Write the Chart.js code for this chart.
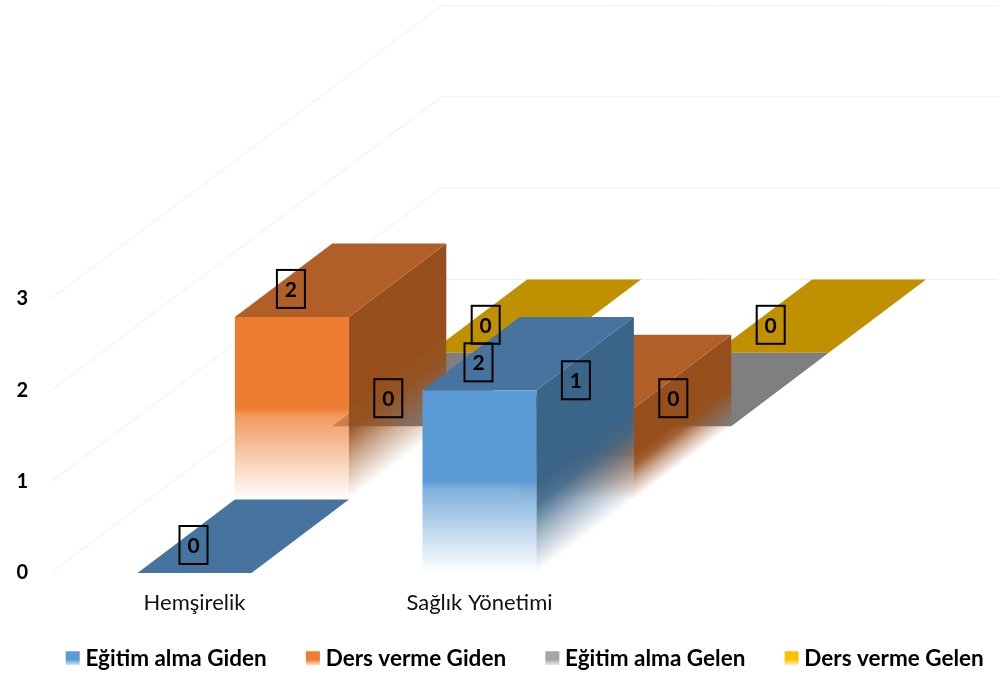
<!DOCTYPE html>
<html>
<head>
<meta charset="utf-8">
<style>
  html, body { margin: 0; background: #fff; }
</style>
<script src="https://cdn.jsdelivr.net/npm/chart.js@4"></script>
</head>
<body>
<canvas id="chart" width="998" height="677"></canvas>
<script>
const categories = ["Hemşirelik", "Sağlık Yönetimi"];
const seriesNames = ["Eğitim alma Giden", "Ders verme Giden", "Eğitim alma Gelen", "Ders verme Gelen"];
const egitimAlmaGiden = [0, 2];
const dersVermeGiden = [2, 1];
const egitimAlmaGelen = [0, 0];
const dersVermeGelen = [0, 0];
const yTicks = [0, 3];

const front = ["91,155,213", "237,125,49", "165,165,165", "255,192,0"];
const topFace = ["#46749f", "#b15f27", "#7f7f7f", "#bf9000"];
const side = ["58,100,136", "150,79,28", "124,124,124", "191,144,0"];

// each series sits one row further back
const rowX = 97.4;
const rowY = -73.4;
const rows = 4;

function fadeStops(g, rgb) {
  g.addColorStop(0, `rgba(${rgb},1)`);
  g.addColorStop(0.08, `rgba(${rgb},0.78)`);
  g.addColorStop(1, `rgba(${rgb},0)`);
}

function sideStops(g, rgb) {
  g.addColorStop(0, `rgba(${rgb},1)`);
  g.addColorStop(0.25, `rgba(${rgb},0.9)`);
  g.addColorStop(0.6, `rgba(${rgb},0.45)`);
  g.addColorStop(1, `rgba(${rgb},0)`);
}

function poly(ctx, pts, fill) {
  ctx.beginPath();
  pts.forEach((p, i) => (i ? ctx.lineTo(p[0], p[1]) : ctx.moveTo(p[0], p[1])));
  ctx.closePath();
  ctx.fillStyle = fill;
  ctx.fill();
}

const bars3d = {
  id: "bars3d",
  afterLayout(chart) {
    // legend is not centred in the original, and sits closer to the axis
    chart.legend.left += 13.5;
    chart.legend.right += 13.5;
    chart.legend.top -= 14.75;
    chart.legend.bottom -= 14.75;
  },
  beforeDatasetsDraw(chart) {
    const { ctx, chartArea, scales } = chart;
    ctx.save();
    ctx.strokeStyle = "#efefef";
    ctx.lineWidth = 1;
    scales.y.ticks.forEach((t) => {
      const y = scales.y.getPixelForValue(t.value);
      ctx.beginPath();
      ctx.moveTo(chartArea.left - 1, y);
      ctx.lineTo(chartArea.left + rowX * rows, y + rowY * rows);
      ctx.lineTo(chart.width, y + rowY * rows);
      ctx.stroke();
    });
    ctx.restore();
  },
  afterDatasetsDraw(chart) {
    const { ctx } = chart;
    ctx.save();
    for (let d = rows - 1; d >= 0; d--) {
      const dx = rowX * d;
      const dy = rowY * d;
      chart.getDatasetMeta(d).data.forEach((bar) => {
        const l = bar.x - bar.width / 2 + dx;
        const r = bar.x + bar.width / 2 + dx;
        const t = bar.y + dy;
        const b = bar.base + dy;
        const h = b - t;
        if (h > 0.5) {
          const start = b - h * 0.5;
          let g = ctx.createLinearGradient(0, start, 0, b);
          fadeStops(g, front[d]);
          ctx.fillStyle = g;
          ctx.fillRect(l, t, r - l, h);

          // side face: shear so the fade runs along the depth
          ctx.save();
          ctx.transform(1, rowY / rowX, 0, 1, r, t);
          g = ctx.createLinearGradient(0, h - h * 0.5, 0, h);
          sideStops(g, side[d]);
          ctx.fillStyle = g;
          ctx.fillRect(0, 0, rowX, h);
          ctx.restore();
        }
        poly(ctx, [[l, t], [r, t], [r + rowX, t + rowY], [l + rowX, t + rowY]], topFace[d]);
      });
    }

    // value boxes
    ctx.font = "bold 21px Lato";
    ctx.textAlign = "center";
    ctx.textBaseline = "middle";
    for (let d = 0; d < rows; d++) {
      const meta = chart.getDatasetMeta(d);
      meta.data.forEach((bar, i) => {
        const x = bar.x + rowX * d - 1;
        const y = bar.y + rowY * d - 28;
        ctx.strokeStyle = "#000";
        ctx.lineWidth = 2;
        ctx.strokeRect(x - 14, y - 19, 28, 38);
        ctx.fillStyle = "#000";
        ctx.fillText(String(chart.data.datasets[d].data[i]), x, y + 1);
      });
    }
    ctx.restore();
  },
};

const ctx = document.getElementById("chart").getContext("2d");
new Chart(ctx, {
  type: "bar",
  data: {
    labels: categories,
    datasets: [egitimAlmaGiden, dersVermeGiden, egitimAlmaGelen, dersVermeGelen].map((values, i) => ({
      label: seriesNames[i],
      data: values,
      backgroundColor: "rgba(0,0,0,0)",
      grouped: false,
      barPercentage: 0.4,
      categoryPercentage: 1,
    })),
  },
  plugins: [bars3d],
  options: {
    responsive: false,
    animation: false,
    // negative right: four legend items need a bit more than the canvas width
    layout: { padding: { top: 299, bottom: -17.25, right: -30 } },
    plugins: {
      tooltip: { enabled: false },
      legend: {
        position: "bottom",
        labels: {
          color: "#000",
          font: { family: "Lato", size: 22.5, weight: "bold" },
          // small box with a thick stroke, keeps the text close to the swatch
          boxWidth: 3,
          boxHeight: 3,
          padding: 44.75,
          generateLabels(chart) {
            return seriesNames.map((name, i) => {
              const g = chart.ctx.createLinearGradient(0, 652, 0, 666);
              g.addColorStop(0, `rgba(${front[i]},1)`);
              g.addColorStop(0.55, `rgba(${front[i]},1)`);
              g.addColorStop(1, `rgba(${front[i]},0.1)`);
              return { text: name, fillStyle: g, strokeStyle: g, lineWidth: 11, datasetIndex: i };
            });
          },
        },
      },
    },
    scales: {
      x: {
        grid: { display: false },
        border: { display: false },
        ticks: { color: "#111", font: { family: "Lato", size: 22 }, padding: 9, maxRotation: 0 },
        afterFit(scale) { scale.height = 44; },
      },
      y: {
        min: yTicks[0],
        max: yTicks[1],
        grid: { display: false },
        border: { display: false },
        ticks: { stepSize: 1, color: "#000", font: { family: "Lato", size: 20, weight: "bold" }, padding: 16 },
        afterFit(scale) { scale.width = 52; },
      },
      // empty axis, only keeps the plot area narrower than the legend
      side: {
        position: "right",
        grid: { display: false },
        border: { display: false },
        ticks: { display: false },
        afterFit(scale) { scale.width = 406; },
      },
    },
  },
});
</script>
</body>
</html>
